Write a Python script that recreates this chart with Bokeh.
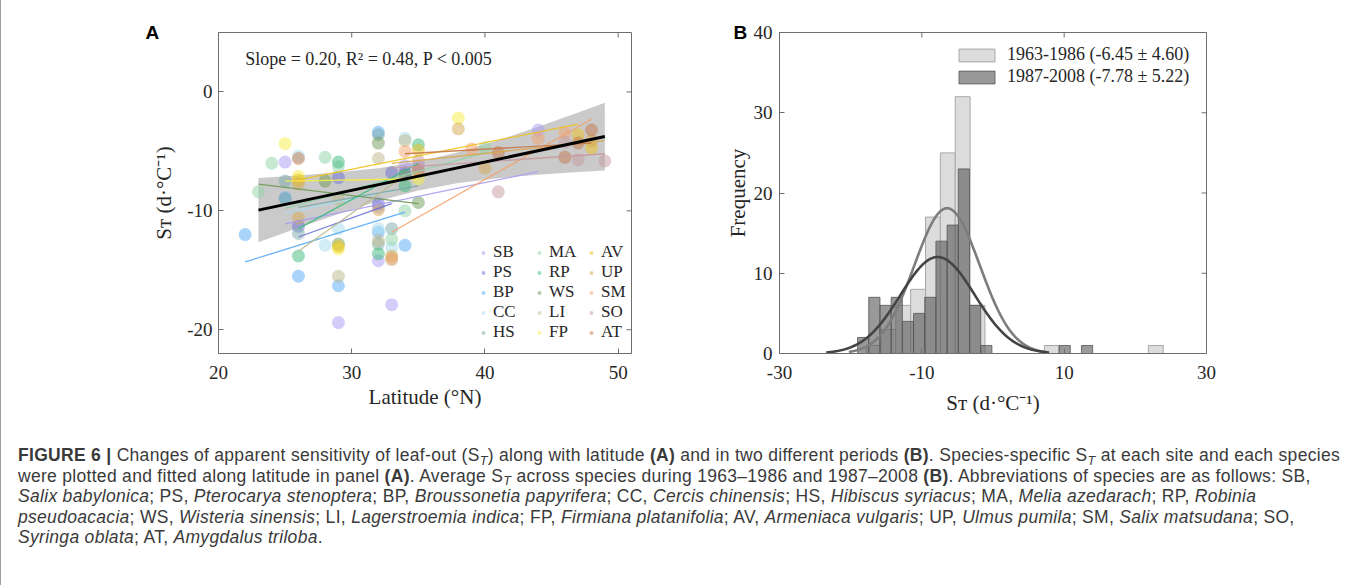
import numpy as np
from bokeh.plotting import figure
from bokeh.models import (Range1d, FixedTicker, Label, Legend, LegendItem, ColumnDataSource, Div)
from bokeh.layouts import row, column
from bokeh.embed import file_html
from bokeh.resources import INLINE

# ---------------- Panel A data ----------------
species = ["SB", "PS", "BP", "CC", "HS", "MA", "RP", "WS", "LI", "FP", "AV", "UP", "SM", "SO", "AT"]
species_colors = ["#a99bf5", "#6b6fd6", "#55aaf5", "#a8dcf0", "#7aaaa8", "#8fd3a6", "#3dba7d",
                  "#6f9a55", "#bdb88a", "#f7ee45", "#eec21c", "#d6a94f", "#f4a36d", "#c69a9e", "#c4784a"]

sb_lat = [25, 34, 35, 32, 32, 29, 33, 44]
sb_st = [-5.9, -6.2, -6.2, -9.7, -14.2, -19.4, -17.9, -3.2]
ps_lat = [29, 33, 26, 34, 32]
ps_st = [-7.2, -6.8, -11.3, -6.8, -9.4]
bp_lat = [22, 26, 29, 34, 32, 25, 32]
bp_st = [-12.0, -15.5, -16.3, -12.9, -3.4, -8.9, -11.8]
cc_lat = [26, 28, 29, 32, 33, 34]
cc_st = [-5.4, -12.9, -11.5, -11.5, -13.1, -3.9]
hs_lat = [25, 26, 32, 32, 33, 25]
hs_st = [-7.5, -11.9, -3.6, -12.8, -11.5, -9.0]
ma_lat = [23, 24, 28, 40, 33, 34, 29]
ma_st = [-8.4, -6.0, -5.5, -4.7, -12.4, -10.0, -6.3]
rp_lat = [29, 26, 32, 35, 34]
rp_st = [-5.9, -13.8, -13.6, -4.45, -7.9]
ws_lat = [28, 32, 29, 34, 35]
ws_st = [-7.5, -4.3, -12.8, -7.0, -9.3]
li_lat = [29, 32, 29, 32, 34, 33]
li_st = [-9.0, -5.6, -15.5, -12.5, -4.1, -14.1]
fp_lat = [25, 26, 29, 38, 35]
fp_st = [-4.35, -7.1, -13.2, -2.2, -7.3]
av_lat = [35, 47, 48, 26, 29]
av_st = [-4.9, -3.6, -4.7, -7.4, -13.0]
up_lat = [26, 38, 40, 48, 33, 32, 26]
up_st = [-7.75, -3.1, -6.4, -4.1, -13.8, -9.9, -10.6]
sm_lat = [34, 39, 46, 44, 33]
sm_st = [-5.0, -4.8, -3.4, -3.9, -14.0]
so_lat = [41, 46, 47, 49, 35]
so_st = [-8.4, -4.2, -5.7, -5.8, -5.8]
at_lat = [26, 41, 46, 48, 47, 35]
at_st = [-5.6, -5.1, -5.5, -3.2, -4.3, -6.6]

# species-specific fitted lines (start/end latitude and S_T)
fit_lat0 = [25, 26, 22, 25, 26, 25, 26, 23, 26, 25, 26, 33, 33, 33, 34]
fit_lat1 = [44, 33, 34, 33, 35, 40, 35, 35, 34, 35, 47, 49, 48, 49, 48]
fit_st0 = [-11.1, -12.2, -14.3, -10.2, -9.7, -9.8, -11.5, -7.75, -13.4, -7.5, -7.4, -6.0, -11.8, -6.4, -5.2]
fit_st1 = [-6.7, -9.4, -10.1, -8.3, -7.9, -5.1, -6.0, -9.4, -7.0, -7.3, -2.7, -4.1, -2.3, -5.2, -4.3]

# overall fit and its confidence band
overall_lat = [23, 49]
overall_st = [-9.94, -3.75]
band_lat = [23, 26, 29, 32, 35, 38, 41, 44, 47, 49]
band_hi = [-7.24, -7.03, -6.76, -6.42, -5.88, -5.08, -4.07, -2.92, -1.72, -0.90]
band_lo = [-12.64, -11.43, -10.26, -9.18, -8.30, -7.66, -7.25, -6.96, -6.74, -6.60]

a_xticks = [20, 30, 40, 50]
a_yticks = [-20, -10, 0]

# ---------------- Panel B data ----------------
light_first_edge = -19.92
light_bin_width = 2.0875
light_counts = [0, 1, 3, 6, 8, 17, 25, 32, 6, 0, 0, 0, 0, 1, 0, 0, 0, 0, 0, 0, 1]
dark_first_edge = -19.03
dark_bin_width = 1.573
dark_counts = [2, 7, 6, 7, 4, 5, 7, 14, 16, 23, 6, 1, 0, 0, 0, 0, 0, 0, 1, 0, 1]
light_mean, light_sd, light_n = -6.45, 4.60, 100
dark_mean, dark_sd, dark_n = -7.78, 5.22, 100
legend_labels = ["1963-1986 (-6.45 \u00b1 4.60)", "1987-2008 (-7.78 \u00b1 5.22)"]
b_xticks = [-30, -10, 10, 30]
b_yticks = [0, 10, 20, 30, 40]

SERIF = "Liberation Serif"
AX = "#6e6e6e"
TXT = "#262626"
ST_LABEL = "S\u1d1b (d\u00b7\u00b0C\u207b\u00b9)"


def style_axis(ax, ticks):
    ax.ticker = FixedTicker(ticks=ticks)
    ax.major_label_overrides = {t: str(t) for t in ticks}
    ax.axis_line_color = AX
    ax.major_tick_line_color = AX
    ax.major_tick_in = 5
    ax.major_tick_out = 0
    ax.minor_tick_line_color = None
    ax.major_label_text_font = SERIF
    ax.major_label_text_color = TXT
    ax.major_label_text_font_size = "19px"
    ax.axis_label_text_font = SERIF
    ax.axis_label_text_font_size = "21px"
    ax.axis_label_text_font_style = "normal"
    ax.axis_label_text_color = TXT


def mirror_ticks(p, xticks, yticks, xr, yr):
    # tick marks on the top and right edges of the box (MATLAB "box on" look)
    p.ray(x=xticks, y=[yr.end] * len(xticks), length=5, length_units="screen",
          angle=-np.pi / 2, line_color=AX, line_width=1)
    p.ray(x=[xr.end] * len(yticks), y=yticks, length=5, length_units="screen",
          angle=np.pi, line_color=AX, line_width=1)


def panel_letter(p, letter, offset):
    p.title.text = letter
    p.title.text_font = "Liberation Sans"
    p.title.text_font_style = "bold"
    p.title.text_font_size = "19px"
    p.title.text_color = "black"
    p.title.align = "left"
    p.title.offset = offset
    p.title.standoff = -20


# ================= Panel A =================
xrA = Range1d(20, 51)
yrA = Range1d(-22, 5)
pA = figure(frame_width=413, frame_height=321, x_range=xrA, y_range=yrA,
            output_backend="svg", toolbar_location=None,
            min_border_left=217, min_border_right=69, min_border_top=32, min_border_bottom=77)
pA.grid.visible = False
pA.outline_line_color = AX
style_axis(pA.xaxis[0], a_xticks)
style_axis(pA.yaxis[0], a_yticks)
pA.xaxis[0].major_label_standoff = 12
pA.xaxis[0].axis_label = "Latitude (\u00b0N)"
pA.xaxis[0].axis_label_standoff = 3
pA.yaxis[0].major_label_standoff = 6
pA.yaxis[0].axis_label = ST_LABEL
pA.yaxis[0].axis_label_standoff = 8
mirror_ticks(pA, a_xticks, a_yticks, xrA, yrA)
panel_letter(pA, "A", -73)

pA.varea(x=band_lat, y1=band_lo, y2=band_hi, fill_color="#bdbdbd", fill_alpha=0.8)

lat_lists = [sb_lat, ps_lat, bp_lat, cc_lat, hs_lat, ma_lat, rp_lat, ws_lat, li_lat, fp_lat,
             av_lat, up_lat, sm_lat, so_lat, at_lat]
st_lists = [sb_st, ps_st, bp_st, cc_st, hs_st, ma_st, rp_st, ws_st, li_st, fp_st,
            av_st, up_st, sm_st, so_st, at_st]
point_renderers = []
for name, col, la, st in zip(species, species_colors, lat_lists, st_lists):
    r = pA.scatter(la, st, size=13, fill_color=col, fill_alpha=0.5, line_color=None)
    point_renderers.append(r)

pA.segment(x0=fit_lat0, y0=fit_st0, x1=fit_lat1, y1=fit_st1, line_color=species_colors,
           line_width=1.3, line_alpha=0.9)
pA.line(overall_lat, overall_st, line_color="black", line_width=3)

pA.add_layout(Label(x=22, y=2.75, text="Slope = 0.20, R\u00b2 = 0.48, P < 0.005", text_font=SERIF,
                    text_font_size="18px", text_baseline="middle", text_color=TXT))

for c, vx in enumerate([260, 316, 368]):
    items = [LegendItem(label=species[c * 5 + k], renderers=[point_renderers[c * 5 + k]]) for k in range(5)]
    lg = Legend(items=items, location=(vx, 11), glyph_width=10, glyph_height=17, label_height=17,
                spacing=-2, padding=0, margin=0, label_standoff=5, border_line_alpha=0,
                background_fill_alpha=0, label_text_font=SERIF, label_text_font_size="17px",
                label_text_color=TXT)
    pA.add_layout(lg, "center")

# ================= Panel B =================
xrB = Range1d(-30, 30)
yrB = Range1d(0, 40)
pB = figure(frame_width=427, frame_height=321, x_range=xrB, y_range=yrB,
            output_backend="svg", toolbar_location=None,
            min_border_left=79, min_border_right=148, min_border_top=32, min_border_bottom=77)
pB.grid.visible = False
pB.outline_line_color = AX
style_axis(pB.xaxis[0], b_xticks)
style_axis(pB.yaxis[0], b_yticks)
pB.xaxis[0].major_label_standoff = 12
pB.xaxis[0].axis_label = ST_LABEL
pB.xaxis[0].axis_label_standoff = 9
pB.yaxis[0].major_label_standoff = 7
pB.yaxis[0].axis_label = "Frequency"
pB.yaxis[0].axis_label_standoff = 1
mirror_ticks(pB, b_xticks, b_yticks, xrB, yrB)
panel_letter(pB, "B", -46)


def hist_source(first, width, counts):
    left = first + width * np.arange(len(counts))
    cnt = np.array(counts, dtype=float)
    keep = cnt > 0
    return ColumnDataSource(dict(left=left[keep], right=(left + width)[keep], top=cnt[keep]))


light_src = hist_source(light_first_edge, light_bin_width, light_counts)
dark_src = hist_source(dark_first_edge, dark_bin_width, dark_counts)
r_light = pB.quad(left="left", right="right", top="top", bottom=0, source=light_src,
                  fill_color="#dcdcdc", line_color="#a8a8a8", line_width=1)
r_dark = pB.quad(left="left", right="right", top="top", bottom=0, source=dark_src,
                 fill_color="#5a5a5a", fill_alpha=0.62, line_color="#555555", line_alpha=0.8, line_width=1)

xl = np.linspace(light_mean - 3 * light_sd, light_mean + 3 * light_sd, 200)
yl = light_n * light_bin_width * np.exp(-0.5 * ((xl - light_mean) / light_sd) ** 2) / (light_sd * np.sqrt(2 * np.pi))
xd = np.linspace(dark_mean - 3 * dark_sd, dark_mean + 3 * dark_sd, 200)
yd = dark_n * dark_bin_width * np.exp(-0.5 * ((xd - dark_mean) / dark_sd) ** 2) / (dark_sd * np.sqrt(2 * np.pi))
pB.line(xl, yl, line_color="#7d7d7d", line_width=2.6)
pB.line(xd, yd, line_color="#444444", line_width=2.6)

lgB = Legend(items=[LegendItem(label=legend_labels[0], renderers=[r_light]),
                    LegendItem(label=legend_labels[1], renderers=[r_dark])],
             location=(175, 266), glyph_width=45, glyph_height=16, label_height=16, spacing=1,
             padding=0, margin=0, label_standoff=8, border_line_alpha=0, background_fill_alpha=0,
             label_text_font=SERIF, label_text_font_size="18px", label_text_color=TXT)
pB.add_layout(lgB, "center")

# ================= Caption =================
B0 = "<b style='font-weight:700'>"
ST = "S<span style='font-size:0.72em;font-style:italic;line-height:0;position:relative;top:0.3em'>T</span>"
caption = (
    "<div style='line-height:20.5px;letter-spacing:0.3px'>"
    + B0 + "FIGURE 6 |</b> Changes of apparent sensitivity of leaf-out (" + ST + ") along with latitude "
    + B0 + "(A)</b> and in two different periods " + B0 + "(B)</b>. Species-specific " + ST + " at each site and each species<br>"
    "were plotted and fitted along latitude in panel " + B0 + "(A)</b>. Average " + ST + " across species during 1963\u20131986 and 1987\u20132008 "
    + B0 + "(B)</b>. Abbreviations of species are as follows: SB,<br>"
    "<i>Salix babylonica</i>; PS, <i>Pterocarya stenoptera</i>; BP, <i>Broussonetia papyrifera</i>; CC, <i>Cercis chinensis</i>; "
    "HS, <i>Hibiscus syriacus</i>; MA, <i>Melia azedarach</i>; RP, <i>Robinia</i><br>"
    "<i>pseudoacacia</i>; WS, <i>Wisteria sinensis</i>; LI, <i>Lagerstroemia indica</i>; FP, <i>Firmiana platanifolia</i>; "
    "AV, <i>Armeniaca vulgaris</i>; UP, <i>Ulmus pumila</i>; SM, <i>Salix matsudana</i>; SO,<br>"
    "<i>Syringa oblata</i>; AT, <i>Amygdalus triloba</i>.</div>"
)
cap = Div(text=caption, width=1353, height=150,
          styles={"font-family": "Liberation Sans", "font-size": "17.5px",
                  "line-height": "20.5px", "color": "#3a3a3a", "white-space": "nowrap",
                  "padding-top": "10px", "padding-left": "12px"})

layout = column(row(pA, pB, spacing=0), cap, spacing=0,
                styles={"border-left": "1px solid #a0a0a0", "border-right": "1px solid #a0a0a0"})
open("out.html", "w").write(file_html(layout, INLINE))
